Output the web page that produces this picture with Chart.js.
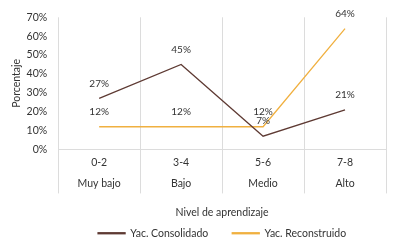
<!DOCTYPE html>
<html>
<head>
<meta charset="utf-8">
<script src="https://cdn.jsdelivr.net/npm/chart.js@4/dist/chart.umd.min.js"></script>
<style>
  html, body { margin: 0; padding: 0; background: #fff; }
  #wrap { width: 396px; height: 245px; }
</style>
</head>
<body>
<div id="wrap"><canvas id="chart"></canvas></div>
<script>
// Nivel de aprendizaje: rango y nombre
const rangos = ['0-2', '3-4', '5-6', '7-8'];
const niveles = ['Muy bajo', 'Bajo', 'Medio', 'Alto'];
const consolidado = [27, 45, 7, 21];
const reconstruido = [12, 12, 12, 64];
const yTicks = [0, 10, 20, 30, 40, 50, 60, 70];

const FONT = "Lato, sans-serif";
const TXT = '#333';
const GRID = '#dcdcdc';
const LEG_PAD = 24;

// etiquetas de datos encima de cada punto
const etiquetas = {
  id: 'etiquetas',
  afterDatasetsDraw(chart) {
    const ctx = chart.ctx;
    ctx.save();
    ctx.font = '10px ' + FONT;
    ctx.fillStyle = TXT;
    ctx.textAlign = 'center';
    ctx.textBaseline = 'middle';
    chart.data.datasets.forEach((ds, i) => {
      chart.getDatasetMeta(i).data.forEach((pt, j) => {
        ctx.fillText(ds.data[j] + '%', pt.x, pt.y - 15);
      });
    });
    ctx.restore();
  }
};

// separadores de categorías bajo el eje (eje de varios niveles)
const separadores = {
  id: 'separadores',
  afterDraw(chart) {
    const x = chart.scales.x;
    const ctx = chart.ctx;
    const half = (x.getPixelForValue(1) - x.getPixelForValue(0)) / 2;
    ctx.save();
    ctx.strokeStyle = GRID;
    ctx.lineWidth = 1;
    for (let i = 0; i <= rangos.length; i++) {
      const px = Math.round(x.getPixelForValue(i) - half) + 0.5;
      ctx.beginPath();
      ctx.moveTo(px, chart.chartArea.bottom);
      ctx.lineTo(px, chart.chartArea.bottom + 44);
      ctx.stroke();
    }
    ctx.restore();
  },
  afterUpdate(chart) {
    // centrar la leyenda bajo el área del gráfico
    const shift = ((chart.chartArea.left + chart.chartArea.right) - chart.width) / 2;
    chart.legend.left += shift;
    chart.legend.right += shift;
    chart.legend.top = chart.height - 17 - LEG_PAD;
  }
};

new Chart(document.getElementById('chart'), {
  type: 'line',
  data: {
    labels: rangos.map((r, i) => [r, niveles[i]]),
    datasets: [{
      label: 'Yac. Consolidado',
      data: consolidado,
      borderColor: '#5e3a33',
      backgroundColor: '#5e3a33',
      borderWidth: 1.3,
      pointRadius: 0,
      tension: 0
    }, {
      label: 'Yac. Reconstruido',
      data: reconstruido,
      borderColor: '#f0b040',
      backgroundColor: '#f0b040',
      borderWidth: 1.3,
      pointRadius: 0,
      tension: 0
    }]
  },
  options: {
    responsive: true,
    maintainAspectRatio: false,
    animation: false,
    layout: { padding: { top: 10, right: 10, left: 10, bottom: 0 } },
    plugins: {
      legend: {
        position: 'bottom',
        maxHeight: 22,
        labels: {
          font: { family: FONT, size: 10.5 },
          color: TXT,
          boxWidth: 27,
          boxHeight: 1,
          padding: LEG_PAD
        }
      },
      tooltip: { enabled: false }
    },
    scales: {
      x: {
        offset: true,
        grid: { offset: true, color: GRID, drawTicks: false },
        border: { display: true, color: GRID },
        ticks: {
          font: { family: FONT, size: 10.5, lineHeight: 2 },
          color: TXT,
          padding: 3
        },
        title: {
          display: true,
          text: 'Nivel de aprendizaje',
          font: { family: FONT, size: 10.5 },
          color: TXT,
          padding: { top: 9, bottom: 4 }
        }
      },
      y: {
        min: 0,
        max: 70,
        afterBuildTicks: s => { s.ticks = yTicks.map(v => ({ value: v })); },
        grid: { display: false, drawTicks: false },
        border: { display: false },
        ticks: {
          font: { family: FONT, size: 10.5 },
          color: TXT,
          padding: 11,
          callback: v => v + '%'
        },
        title: {
          display: true,
          text: 'Porcentaje',
          font: { family: FONT, size: 10.5 },
          color: TXT,
          padding: { top: 0, bottom: -7 }
        }
      }
    }
  },
  plugins: [etiquetas, separadores]
});
</script>
</body>
</html>
